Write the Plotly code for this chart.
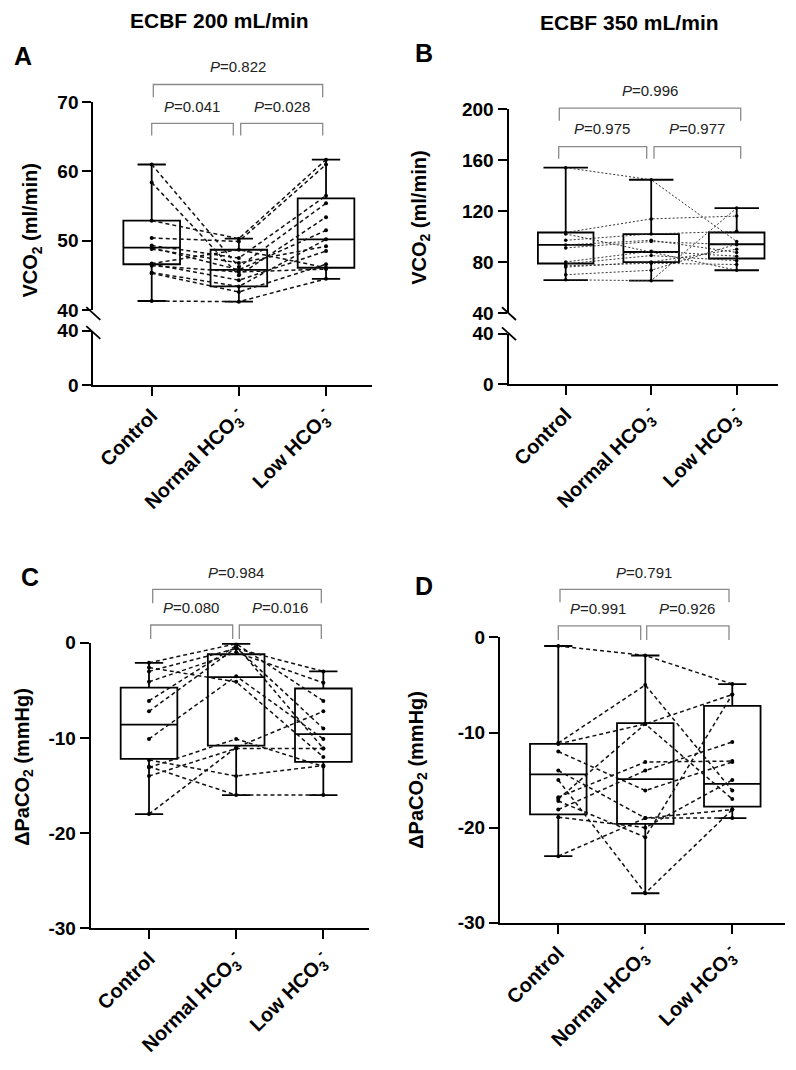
import plotly.graph_objects as go

W, H = 796, 1070
FONT = "Liberation Sans, Arial, sans-serif"

# ---------------- data ----------------
categories = ["Control", "Normal HCO<sub>3</sub><sup>-</sup>", "Low HCO<sub>3</sub><sup>-</sup>"]

# Panel A: VCO2, ECBF 200 mL/min (paired subjects)
A_control = [61.0, 58.4, 52.9, 50.4, 49.3, 49.0, 48.8, 46.7, 46.6, 46.4, 45.4, 45.3, 41.3]
A_normal = [46.2, 45.0, 50.3, 49.9, 47.5, 45.8, 46.8, 48.7, 44.3, 45.5, 43.4, 42.6, 41.2]
A_low = [55.4, 53.4, 61.7, 61.0, 56.5, 51.5, 49.2, 46.1, 48.5, 45.9, 50.2, 46.6, 44.5]
A_lo = [41.3, 41.2, 44.5]
A_q1 = [46.6, 43.4, 46.1]
A_med = [49.0, 45.8, 50.2]
A_q3 = [52.9, 48.7, 56.1]
A_hi = [61.0, 50.3, 61.7]

# Panel B: VCO2, ECBF 350 mL/min
B_control = [154.0, 103.1, 97.0, 93.4, 91.0, 80.0, 78.5, 77.0, 76.0, 70.0, 66.0, 102.0]
B_normal = [144.5, 113.8, 102.0, 97.0, 96.0, 88.5, 85.0, 79.0, 80.0, 73.5, 65.3, 87.8]
B_low = [96.0, 116.0, 104.0, 87.5, 93.5, 84.5, 81.0, 78.0, 90.0, 94.0, 122.3, 73.5]
B_lo = [65.8, 65.3, 73.5]
B_q1 = [78.8, 79.8, 82.7]
B_med = [93.4, 87.8, 93.9]
B_q3 = [103.1, 101.8, 103.1]
B_hi = [154.0, 144.5, 122.3]

# Panel C: dPaCO2, ECBF 200 mL/min
C_control = [-2.1, -3.0, -4.1, -6.1, -7.2, -10.1, -13.1, -14.0, -18.0, -13.0, -12.3, -2.6]
C_normal = [-0.1, -0.6, -1.0, -0.3, -0.5, -3.5, -10.1, -11.1, -11.0, -16.0, -14.0, -4.1]
C_low = [-6.1, -3.0, -4.2, -11.1, -9.0, -10.1, -13.0, -11.1, -7.2, -16.0, -12.9, -12.0]
C_lo = [-18.0, -16.0, -16.0]
C_q1 = [-12.2, -10.8, -12.5]
C_med = [-8.6, -3.6, -9.6]
C_q3 = [-4.7, -1.2, -4.8]
C_hi = [-2.1, -0.1, -3.0]

# Panel D: dPaCO2, ECBF 350 mL/min
D_control = [-0.9, -11.1, -11.2, -12.0, -14.0, -15.0, -17.0, -18.1, -18.9, -23.0, -17.2, -16.8]
D_normal = [-1.9, -5.0, -9.1, -16.1, -19.0, -26.9, -9.1, -14.0, -20.0, -19.0, -21.0, -13.1]
D_low = [-4.9, -16.1, -6.0, -13.1, -19.0, -18.1, -17.0, -11.0, -15.0, -18.1, -6.0, -13.0]
D_lo = [-23.0, -26.9, -19.0]
D_q1 = [-18.6, -19.6, -17.8]
D_med = [-14.4, -14.9, -15.4]
D_q3 = [-11.2, -9.0, -7.2]
D_hi = [-0.9, -1.9, -4.9]

P_A = ["0.822", "0.041", "0.028"]
P_B = ["0.996", "0.975", "0.977"]
P_C = ["0.984", "0.080", "0.016"]
P_D = ["0.791", "0.991", "0.926"]


def fx(px):
    return px / W


def fy(py):
    return 1 - py / H


fig = go.Figure()
cats = [0, 1, 2]


def add_panel(xa, ya, ctrl, norm, low, lo, q1, med, q3, hi, whw, dash, lw, lcolor, msize):
    fig.add_trace(go.Box(
        x=cats, q1=q1, median=med, q3=q3, lowerfence=lo, upperfence=hi,
        width=0.65, whiskerwidth=whw, boxpoints=False,
        line=dict(color="black", width=1.8), fillcolor="rgba(0,0,0,0)",
        xaxis=xa, yaxis=ya, showlegend=False, hoverinfo="skip"))
    for c, n, l in zip(ctrl, norm, low):
        fig.add_trace(go.Scatter(
            x=cats, y=[c, n, l], mode="lines+markers",
            line=dict(color=lcolor, width=lw, dash=dash),
            marker=dict(color="black", size=msize),
            xaxis=xa, yaxis=ya, showlegend=False, hoverinfo="skip"))


add_panel("x", "y", A_control, A_normal, A_low, A_lo, A_q1, A_med, A_q3, A_hi, 0.5, "4px,3px", 1.5, "#111", 4)
add_panel("x2", "y3", B_control, B_normal, B_low, B_lo, B_q1, B_med, B_q3, B_hi, 0.8, "2px,2px", 1.0, "#333", 3.5)
add_panel("x3", "y5", C_control, C_normal, C_low, C_lo, C_q1, C_med, C_q3, C_hi, 0.5, "4px,3px", 1.5, "#111", 4)
add_panel("x4", "y6", D_control, D_normal, D_low, D_lo, D_q1, D_med, D_q3, D_hi, 0.5, "4px,3px", 1.5, "#111", 4)

# empty traces so the lower (broken-axis) segments exist as subplots
for xa, ya in [("x", "y2"), ("x2", "y4")]:
    fig.add_trace(go.Scatter(x=[None], y=[None], mode="markers", xaxis=xa, yaxis=ya,
                             showlegend=False, hoverinfo="skip"))

tickfont = dict(family=FONT, size=20, color="black", weight="bold")
ytickfont = dict(family=FONT, size=19, color="black", weight="bold")
common = dict(showline=True, linecolor="black", linewidth=2, ticks="outside", ticklen=9,
              tickwidth=2, tickcolor="black", showgrid=False, zeroline=False, tickfont=tickfont)
ycommon = dict(common, tickfont=ytickfont)
xcommon = dict(common, tickvals=cats, ticktext=categories, tickangle=-45)

fig.update_layout(
    width=W, height=H, autosize=False,
    margin=dict(l=0, r=0, t=0, b=0),
    paper_bgcolor="white", plot_bgcolor="rgba(0,0,0,0)",
    font=dict(family=FONT, color="black"),
    xaxis=dict(xcommon, domain=[fx(93.3), fx(371.7)], range=[-0.67, 2.524], anchor="y2"),
    yaxis=dict(ycommon, domain=[fy(306), fy(94)], range=[40, 70], tickvals=[40, 50, 60, 70], anchor="x"),
    yaxis2=dict(ycommon, domain=[fy(382.7), fy(327)], range=[0, 40], tickvals=[0, 40], anchor="x"),
    xaxis2=dict(xcommon, domain=[fx(508.5), fx(778)], range=[-0.669, 2.483], anchor="y4"),
    yaxis3=dict(ycommon, domain=[fy(309), fy(101)], range=[40, 200], tickvals=[40, 80, 120, 160, 200], anchor="x2"),
    yaxis4=dict(ycommon, domain=[fy(381.7), fy(330)], range=[0, 40], tickvals=[0, 40], anchor="x2"),
    xaxis3=dict(xcommon, domain=[fx(90.7), fx(369)], range=[-0.669, 2.524], anchor="y5"),
    yaxis5=dict(ycommon, domain=[fy(936.7), fy(645.5)], range=[-30, 0], tickvals=[-30, -20, -10, 0],
                ticktext=["-30", "-20", "-10", "0"], anchor="x3"),
    xaxis4=dict(xcommon, domain=[fx(500), fx(785)], range=[-0.67, 2.606], anchor="y6"),
    yaxis6=dict(ycommon, domain=[fy(931), fy(640)], range=[-30, 0], tickvals=[-30, -20, -10, 0],
                ticktext=["-30", "-20", "-10", "0"], anchor="x4"),
)

shapes = []
annots = []


def pline(x0, y0, x1, y1, color="black", width=1.5):
    shapes.append(dict(type="line", xref="paper", yref="paper", x0=fx(x0), y0=fy(y0), x1=fx(x1), y1=fy(y1),
                       line=dict(color=color, width=width)))


def bracket(x0, x1, ytop, ybot):
    shapes.append(dict(type="path", xref="paper", yref="paper",
                       path=f"M {fx(x0)},{fy(ybot)} L {fx(x0)},{fy(ytop)} L {fx(x1)},{fy(ytop)} L {fx(x1)},{fy(ybot)}",
                       line=dict(color="#8a8a8a", width=1.3)))


def text(x, y, s, size=15, bold=False, angle=0, color="#222"):
    annots.append(dict(xref="paper", yref="paper", x=fx(x), y=fy(y), text=s, showarrow=False,
                       xanchor="center", yanchor="middle", textangle=angle,
                       font=dict(family=FONT, size=size, color=color, weight="bold" if bold else "normal")))


# break marks
for (ax, y1, y2) in [(93.3, 309.5, 329), (509, 309.7, 330.2)]:
    for yc in (y1, y2):
        pline(ax - 7, yc - 6.5, ax + 7, yc + 6.5, "black", 1.8)

# significance brackets: A
bracket(153.3, 322.7, 76, 89)
bracket(151.7, 233.3, 115.7, 128)
bracket(240.7, 322.7, 115.7, 128)
text(238, 57.3, f"<i>P</i>={P_A[0]}")
text(191.7, 98.3, f"<i>P</i>={P_A[1]}")
text(281.7, 98.3, f"<i>P</i>={P_A[2]}")
# B
bracket(559.3, 740.7, 100, 113)
bracket(558.7, 646.7, 139.3, 151.7)
bracket(654, 740.7, 139.3, 151.7)
text(650, 81.7, f"<i>P</i>={P_B[0]}")
text(602, 120.7, f"<i>P</i>={P_B[1]}")
text(696.7, 120.7, f"<i>P</i>={P_B[2]}")
# C
bracket(152.7, 321.3, 591, 605)
bracket(150.7, 232.7, 627.3, 641.7)
bracket(239.3, 321.3, 627.3, 641.7)
text(236, 573.3, f"<i>P</i>={P_C[0]}")
text(190.7, 609, f"<i>P</i>={P_C[1]}")
text(280, 609, f"<i>P</i>={P_C[2]}")
# D
bracket(560, 729, 591, 604)
bracket(558.3, 640.7, 628.3, 642.7)
bracket(646.7, 729, 628.3, 642.7)
text(644, 573.3, f"<i>P</i>={P_D[0]}")
text(598.3, 610.7, f"<i>P</i>={P_D[1]}")
text(687.3, 610.7, f"<i>P</i>={P_D[2]}")

# titles, panel letters, axis titles
text(220, 11, "ECBF 200 mL/min", size=21, bold=True, color="black")
text(629, 13, "ECBF 350 mL/min", size=21, bold=True, color="black")
text(23, 47, "A", size=25, bold=True, color="black")
text(424, 44, "B", size=25, bold=True, color="black")
text(30, 578, "C", size=25, bold=True, color="black")
text(424, 588, "D", size=25, bold=True, color="black")
text(32, 225, "VCO<sub>2</sub> (ml/min)", size=20, bold=True, angle=-90, color="black")
text(421, 212, "VCO<sub>2</sub> (ml/min)", size=20, bold=True, angle=-90, color="black")
text(24, 772, "ΔPaCO<sub>2</sub> (mmHg)", size=20, bold=True, angle=-90, color="black")
text(418, 775, "ΔPaCO<sub>2</sub> (mmHg)", size=20, bold=True, angle=-90, color="black")

fig.update_layout(shapes=shapes, annotations=annots)
fig.write_html("out.html")
